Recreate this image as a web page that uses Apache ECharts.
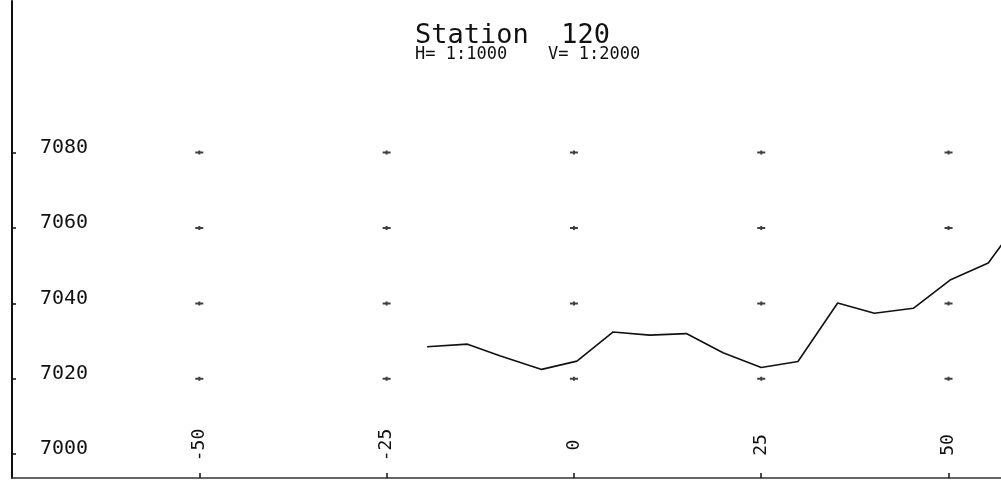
<!DOCTYPE html>
<html>
<head>
<meta charset="utf-8">
<script src="https://cdn.jsdelivr.net/npm/echarts@6/dist/echarts.min.js"></script>
<style>
body{margin:0;background:#fff}
#main{width:1001px;height:480px}
</style>
</head>
<body>
<div id="main"></div>
<script>
// profile: offset from centre line, ground elevation
var offsets = [-19.6, -14.2, -9.9, -4.3, 0.4, 5.2, 10.1, 15.0, 19.9, 25.0, 29.9, 35.2, 40.1, 45.3, 50.2, 55.3, 60.0];
var elevations = [7028.5, 7029.2, 7026.1, 7022.5, 7024.7, 7032.4, 7031.6, 7032.0, 7026.9, 7023.0, 7024.6, 7040.1, 7037.4, 7038.7, 7046.2, 7050.7, 7063.5];
var xTicks = [-50, -25, 0, 25, 50];
var yTicks = [7000, 7020, 7040, 7060, 7080];
var dotRows = [7020, 7040, 7060, 7080];

var font = 'DejaVu Sans Mono';

var profile = [];
for (var i = 0; i < offsets.length; i++) profile.push([offsets[i], elevations[i]]);

var dots = [];
xTicks.forEach(function (x) {
  dotRows.forEach(function (y) { dots.push([x, y]); });
});

var myChart = echarts.init(document.getElementById('main'));
myChart.setOption({
  animation: false,
  backgroundColor: '#fff',
  title: {
    text: 'Station  120',
    subtext: 'H= 1:1000    V= 1:2000',
    left: 415,
    top: 22,
    itemGap: -3,
    padding: 0,
    textStyle: { fontFamily: font, fontSize: 27, fontWeight: 'normal', color: '#111' },
    subtextStyle: { fontFamily: font, fontSize: 17, color: '#111' }
  },
  grid: { left: 12, right: 0, top: 1, bottom: 2 },
  xAxis: {
    type: 'value',
    min: -75,
    max: 57,
    splitLine: { show: false },
    axisLine: { lineStyle: { color: '#333', width: 1.5 } },
    axisTick: { inside: true, length: 5, customValues: xTicks, lineStyle: { color: '#111', width: 1.5 } },
    axisLabel: {
      inside: true,
      rotate: 90,
      margin: 33,
      align: 'center',
      customValues: xTicks,
      fontFamily: font,
      fontSize: 18,
      color: '#111'
    }
  },
  yAxis: {
    type: 'value',
    min: 6993.7,
    max: 7120.2,
    splitLine: { show: false },
    axisLine: { show: true, onZero: false, lineStyle: { color: '#111', width: 2 } },
    axisTick: { show: true, inside: true, length: 4, customValues: yTicks, lineStyle: { color: '#111', width: 1.5 } },
    axisLabel: {
      inside: true,
      margin: 28,
      customValues: yTicks,
      formatter: function (v) { return String(v); },
      fontFamily: font,
      fontSize: 20,
      color: '#111',
      verticalAlign: 'bottom',
      lineHeight: 10
    }
  },
  series: [
    {
      name: 'grid marks',
      type: 'scatter',
      data: dots,
      symbol: 'path://M0,1H8V3H0Z M3,0H5V4H3Z',
      symbolSize: [8, 4],
      itemStyle: { color: '#111' },
      silent: true
    },
    {
      name: 'ground',
      type: 'line',
      data: profile,
      showSymbol: false,
      lineStyle: { color: '#111', width: 1.6 },
      clip: true
    }
  ]
});
</script>
</body>
</html>
